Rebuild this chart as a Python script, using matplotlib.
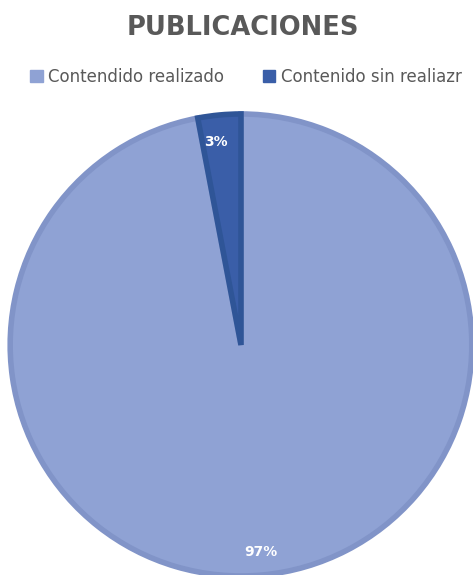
import matplotlib.pyplot as plt
from matplotlib.patches import Patch

labels = ['Contendido realizado', 'Contenido sin realiazr']
values = [97, 3]
colors = ['#8FA2D4', '#3A5EA8']
edges = ['#8194C8', '#2F5597']

fig = plt.figure(figsize=(4.73, 5.75), dpi=100)
ax = fig.add_axes([0.5095 - 0.488, 0.4 - 0.4017, 0.976, 0.8035])

wedges, texts, autotexts = ax.pie(values, colors=colors, startangle=90, counterclock=False,
                                  autopct='%1.0f%%', pctdistance=0.9,
                                  wedgeprops={'linewidth': 4},
                                  textprops={'color': 'white', 'fontsize': 10, 'fontweight': 'bold'})
for w, e in zip(wedges, edges):
    w.set_edgecolor(e)
autotexts[1].set_position((-0.11, 0.88))
ax.set_xlim(-1, 1)
ax.set_ylim(-1, 1)
ax.set_aspect('auto')

fig.text(0.513, 1 - 28 / 575, 'PUBLICACIONES', ha='center', va='center',
         fontsize=18.5, fontweight='bold', color='#595959', family='DejaVu Sans')

handles = [Patch(facecolor=c, edgecolor=c) for c in colors]
fig.legend(handles, labels, loc='center', bbox_to_anchor=(0.52, 1 - 77 / 575), ncol=2,
           frameon=False, prop={'family': 'DejaVu Sans', 'size': 12}, labelcolor='#595959',
           handlelength=0.75, handleheight=0.75, handletextpad=0.35, columnspacing=2.3)

plt.savefig('out.png')
